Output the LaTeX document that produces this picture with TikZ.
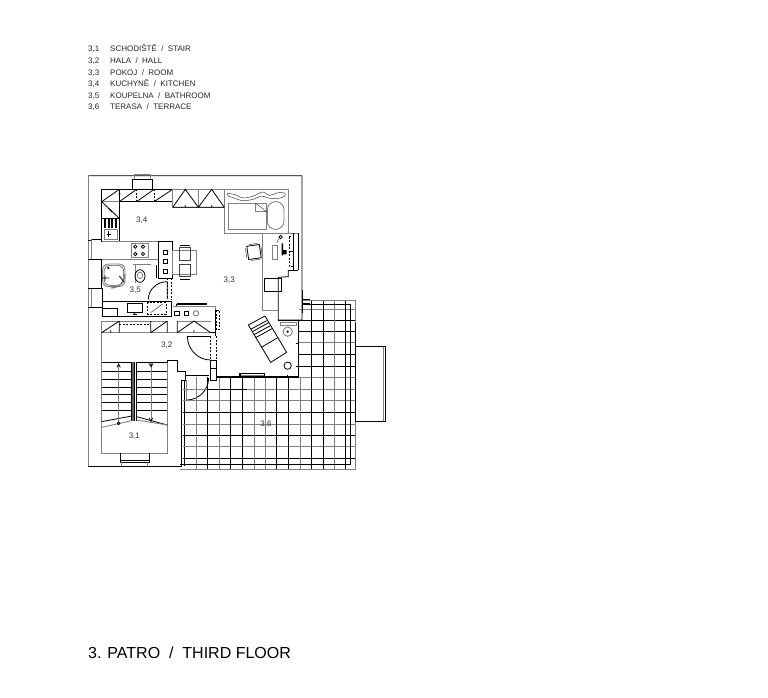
\documentclass[tikz,border=0pt]{standalone}
\usepackage{fontspec}
\setmainfont{Liberation Sans}
\tikzset{
  blk/.style={draw=black,line width=.8pt},
  gry/.style={draw=black!50,line width=.9pt},
  thn/.style={draw=black!75,line width=.5pt},
  dsh/.style={draw=black,line width=.7pt,dash pattern=on 2pt off 1.5pt},
  legend/.style={font=\fontsize{8}{9}\selectfont,anchor=base west,inner sep=0pt,text=black!85},
  room/.style={font=\fontsize{8}{9}\selectfont,inner sep=0pt,text=black!80},
}
\begin{document}
\begin{tikzpicture}[x=1pt,y=-1pt]
\useasboundingbox (0,0) rectangle (768,697);

% legend
\node[legend] (n1) at (88,51) {3,1};
\node[legend] (n2) at (88,63) {3,2};
\node[legend] (n3) at (88,75) {3,3};
\node[legend] (n4) at (88,86) {3,4};
\node[legend] (n5) at (88,98) {3,5};
\node[legend] (n6) at (88,109) {3,6};
\node[legend] (t1) at (110,51) {SCHODIŠTĚ \ / \ STAIR};
\node[legend] (t2) at (110,63) {HALA \ / \ HALL};
\node[legend] (t3) at (110,75) {POKOJ \ / \ ROOM};
\node[legend] (t4) at (110,86) {KUCHYNĚ \ / \ KITCHEN};
\node[legend] (t5) at (110,98) {KOUPELNA \ / \ BATHROOM};
\node[legend] (t6) at (110,109) {TERASA \ / \ TERRACE};
\node[anchor=base west,inner sep=0pt,font=\fontsize{16}{20}\selectfont] (title) at (88,658) {3. PATRO \ / \ THIRD FLOOR};

% upper part
\begin{scope}[shift={(80,170)},scale=1/3]
\draw[blk] (25,17) -- (666,17) -- (666,450) -- (595,450) -- (595,322) -- (625,320) -- (625,300);
\draw[gry] (25,17) -- (25,420);
\draw[blk] (157,28) rectangle (218,58);
\draw[gry] (162,14) -- (162,28) (212,14) -- (212,28) (162,14) -- (212,14);
% kitchen
\draw[blk] (65,58) -- (433,58);
\draw[gry] (433,58) -- (625,58) -- (625,190) -- (433,190) -- (433,58);
\draw[blk] (65,58) -- (65,215);
\draw[blk] (118,95) -- (278,95) (118,58) -- (118,145) (65,145) -- (118,145) (118,145) -- (118,215) -- (65,215);
\draw[gry] (65,95) -- (118,95);
\draw[blk] (65,95) -- (118,58) (65,95) -- (118,145) (118,95) -- (170,58) (170,95) -- (222,58) (222,95) -- (278,58);
\draw[dsh] (170,58) -- (170,95) (222,58) -- (222,95);
\draw[blk] (115,72) -- (122,72) (85,115) -- (97,127);
\draw[gry] (278,58) rectangle (355,112) (355,58) rectangle (433,112);
\draw[blk] (278,112) -- (316,58) -- (355,112) (355,112) -- (395,58) -- (433,112) (278,112) -- (433,112) (316,105) -- (316,112) (395,105) -- (395,112);
\foreach \xpos in {72,83,94,105}
  \fill[black] (\xpos,148) rectangle +(6,26);
\draw[gry] (72,178) rectangle (112,208);
\draw[blk] (85,184) -- (85,202) (80,193) -- (92,193);
% bed
\draw[gry] (445,100) -- (560,100) -- (560,178) -- (445,178) -- cycle;
\draw[thn] (527,100) -- (527,125) -- (560,125) -- cycle;
\draw[gry,rounded corners=8pt] (562,95) rectangle (612,178);
\draw[thn] plot[smooth cycle] coordinates {(443,70) (465,74) (490,84) (520,78) (548,66) (568,76) (595,68) (615,70) (612,80) (590,86) (565,84) (545,78) (520,88) (488,92) (462,84) (445,78)};
% desk
\draw[gry] (547,190) -- (547,422) -- (595,422) (655,190) -- (655,300) (547,190) -- (655,190);
\draw[blk] (640,190) -- (640,300) -- (625,300) (655,190) -- (655,300) (640,300) -- (655,300);
\draw[dsh] (627,200) rectangle (640,290);
\draw[blk] (627,245) -- (640,245);
\draw[gry] (577,226) rectangle (592,267);
\fill[black] (605,220) rectangle (609,256) (607,240) rectangle (620,253);
\draw[blk] (602,201) circle (5);
\draw[thn] (598,205) -- (590,218);
\draw[blk] (553,325) rectangle (605,365);
\draw[blk] (666,388) -- (690,388) (666,400) -- (690,400);
\begin{scope}[rotate around={8:(522,246)}]
\draw[blk] (503,226) rectangle (541,266);
\draw[thn] (510,222) -- (536,222) (510,270) -- (536,270) (498,232) -- (498,260) (545,232) -- (545,260);
\end{scope}
% kitchen block
\draw[blk] (35,208) -- (65,208) (35,268) -- (65,268) (25,210) -- (35,210) (25,268) -- (35,268);
\draw[gry] (35,208) -- (35,268);
\draw[gry] (65,215) -- (235,215) (65,268) -- (235,268);
\draw[gry] (153,220) rectangle (205,263);
\foreach \xpos in {166,189}\foreach \ypos in {230,252}
  \draw[blk] (\xpos,\ypos) circle (5);
\draw[blk] (235,215) rectangle (277,325);
\draw[blk] (251,241) rectangle +(12,12) (251,269) rectangle +(12,12) (251,298) rectangle +(12,12);
\draw[gry] (277,240) rectangle (350,312);
\draw[thn] (298,232) rectangle (332,270) (298,283) rectangle (332,320);
\draw[blk] (300,225) -- (330,225) (300,327) -- (330,327);
% bathroom
\draw[blk] (65,268) -- (65,355);
\draw[gry,rounded corners=6pt] (68,282) rectangle (135,350);
\draw[thn,rounded corners=6pt] (72,286) rectangle (131,346);
\draw[gry,line width=1.3pt] (135,312) arc (0:90:42);
\draw[blk] (65,324) -- (88,324) (75,316) -- (75,332) (118,318) -- (132,336);
\draw[blk] (85,294) circle (2);
\draw[gry] (158,284) -- (212,284) (165,284) -- (165,340);
\draw[blk] (180,318) ellipse (15 and 19);
\draw[thn] (180,316) ellipse (8 and 10);
\draw[blk] (230,285) -- (230,325) (235,285) -- (235,325);
\draw[blk] (205,388) arc (180:270:57 and 53) -- (262,388);
\draw[dsh] (262,325) -- (262,388) (275,325) -- (275,390);
\draw[blk] (35,355) -- (65,355) (35,413) -- (68,413) (68,355) -- (68,395);
\draw[gry] (35,355) -- (35,413);
\draw[blk] (25,355) -- (35,355) (25,413) -- (35,413);
\draw[blk] (68,395) -- (262,395) (68,415) -- (112,415) (68,395) -- (68,438) -- (275,438) (112,415) -- (112,438);
\draw[blk] (142,400) rectangle (187,428) (164,428) -- (164,436) (158,432) -- (170,432);
\draw[dsh] (203,397) rectangle (258,432);
\draw[thn] (212,428) -- (248,402);
\draw[blk] (262,395) -- (275,395) -- (275,440);
% hall cupboard top
\draw[gry] (280,408) -- (405,408) -- (405,480);
\draw[blk,line width=1.5pt] (290,402) -- (380,402);
\draw[blk] (290,402) -- (290,408);
\draw[blk] (284,425) rectangle +(14,11) (313,425) rectangle +(13,11);
\draw[gry] (348,430) circle (8);
\draw[dsh] (409,420) rectangle (418,478);
\end{scope}

% lower part
\begin{scope}[shift={(80,310)},scale=1/3]
\draw[gry] (25,0) -- (25,468);
\draw[blk] (25,468) -- (303,468) -- (303,210);
\draw[gry] (65,33) -- (65,430) -- (262,430) -- (262,158);
\draw[gry] (65,33) -- (262,33) (65,68) -- (392,68) (292,33) -- (392,33);
\draw[blk] (65,68) -- (118,33) (212,68) -- (262,33) (118,33) -- (118,68) (212,33) -- (212,68) (262,33) -- (262,68) (292,33) -- (292,68) (292,68) -- (342,33) -- (392,68) (92,60) -- (92,68) (342,60) -- (342,68);
\draw[dsh] (118,44) -- (212,44);
\draw[blk] (392,68) -- (405,68) (392,78) -- (322,78) (405,0) -- (405,78);
\draw[blk] (322,78) arc (180:90:70 and 72);
\draw[dsh] (392,78) -- (392,150) (408,78) -- (408,150);
\draw[blk] (392,150) -- (392,210) -- (408,210) -- (408,150) (392,150) -- (408,150) (392,175) -- (408,175);
% stair
\draw[blk] (65,158) -- (262,158) -- (262,152) -- (292,152) -- (292,183) -- (317,183) -- (317,197) -- (388,197) (317,197) -- (317,210) -- (303,210);
\foreach \ypos in {183,209,232,254,278,302}
  \draw[blk] (65,\ypos) -- (262,\ypos);
\fill[white] (155,156) rectangle (170,332);
\fill[black!60] (155,156) rectangle (162,332);
\draw[blk] (155,156) -- (155,332) (162,156) -- (162,332) (170,156) -- (170,332);
\draw[blk] (65,335) -- (155,318) (170,320) -- (262,345);
\draw[gry] (65,352) -- (155,332) (170,330) -- (262,345);
\draw[gry] (116,165) -- (116,340) (213,162) -- (213,335);
\draw[blk] (111,172) -- (116,162) -- (121,172) (208,162) -- (218,162) -- (213,170) -- cycle;
\draw[blk] (116,340) circle (4);
\draw[blk] (208,324) -- (213,334) -- (218,324);
\draw[blk] (122,430) -- (122,456) -- (208,456) -- (208,430) (122,452) -- (208,452);
\draw[gry] (125,456) -- (125,468) (203,456) -- (203,468);
\node[room] (r1) at (163,380) {3,1};
\node[room] (r2) at (260,106) {3,2};
% terrace door
\draw[gry] (320,210) -- (320,270);
\draw[blk] (320,270) arc (90:0:66 and 66);
\draw[blk] (312,210) -- (312,468);
\draw[blk] (305,210) -- (305,468);
\end{scope}

% terrace and room corner
\begin{scope}[shift={(180,290)},scale=1/3]
\foreach \ypos/\col in {57/gry,92/blk,125/blk,158/gry,192/blk,228/blk}
  \draw[\col] (358,\ypos) -- (525,\ypos);
\foreach \ypos/\col in {297/gry,332/gry,367/blk,402/gry,437/blk,470/gry,505/blk}
  \draw[\col] (8,\ypos) -- (525,\ypos);
\draw[blk] (85,297) -- (200,297) (8,367) -- (200,367);
\draw[gry] (355,262) -- (525,262);
\foreach \xpos/\col in {50/gry,83/blk,117/gry,152/blk,187/blk,222/gry,255/gry,290/blk,325/blk,360/gry}
  \draw[\col] (\xpos,262) -- (\xpos,538);
\foreach \xpos/\col in {395/blk,430/blk,463/gry,497/blk}
  \draw[\col] (\xpos,30) -- (\xpos,538);
\draw[gry] (368,30) -- (525,30) -- (525,538) -- (0,538);
\draw[blk] (368,42) -- (512,42) -- (512,522) -- (0,522);
\draw[blk] (525,100) -- (525,395);
\fill[white] (527,172) rectangle (612,393);
\draw[blk] (525,170) -- (615,170) -- (615,395) -- (525,395);
\draw[gry] (611,172) -- (611,393);
\draw[blk,line width=1.1pt] (108,261) -- (355,261) -- (355,90);
\draw[gry] (180,256) -- (253,256);
\draw[blk,line width=1.1pt] (180,261) -- (180,251) -- (253,251) -- (253,261);
\draw[blk] (348,160) -- (355,160) (348,228) -- (355,228) (323,254) -- (323,261);
\draw[blk] (295,92) -- (355,92);
\draw[gry] (302,97) rectangle (348,105);
\draw[blk] (368,0) -- (368,70);
\draw[gry] (323,125) circle (14);
\draw[blk] (323,125) circle (2);
\draw[blk] (323,227) circle (11);
% recliner
\draw[blk] (205,105) -- (255,78) -- (320,187) -- (272,217) -- cycle;
\draw[blk] (217,125) -- (266,98) (222,134) -- (271,107) (227,143) -- (276,116) (244,172) -- (293,143);
\draw[blk] (212,118) -- (260,92);
\node[room] (r6) at (258,402) {3,6};
\end{scope}

\node[room] (r4) at (141.7,220.7) {3,4};
\node[room] (r3) at (229.3,280.7) {3,3};
\node[room] (r5) at (135.3,290.7) {3,5};
\end{tikzpicture}
\end{document}
